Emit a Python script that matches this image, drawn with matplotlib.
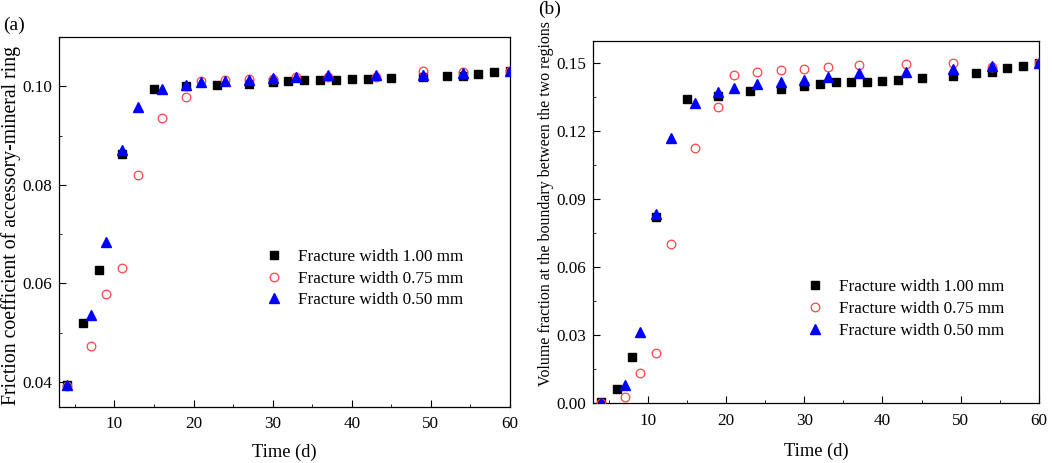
import matplotlib
matplotlib.use("Agg")
from matplotlib import pyplot as plt
from matplotlib.ticker import MultipleLocator

plt.rcParams['font.family'] = ['Liberation Serif', 'DejaVu Serif']
plt.rcParams['mathtext.fontset'] = 'stix'

# (a) friction coefficient
t1_a = [4, 6, 8, 11, 15, 19, 23, 27, 30, 32, 34, 36, 38, 40, 42, 45, 49, 52, 54, 56, 58, 60]
f1_a = [0.0395, 0.0520, 0.0627, 0.0863, 0.0995, 0.1000, 0.1002, 0.1005, 0.1009, 0.1011, 0.1012,
        0.1013, 0.1012, 0.1014, 0.1014, 0.1016, 0.1018, 0.1020, 0.1021, 0.1025, 0.1028, 0.1031]
t2_a = [4, 7, 9, 11, 13, 16, 19, 21, 24, 27, 30, 33, 37, 43, 49, 54, 60]
f2_a = [0.0393, 0.0474, 0.0579, 0.0631, 0.0821, 0.0936, 0.0978, 0.1011, 0.1013, 0.1014, 0.1014,
        0.1018, 0.1018, 0.1018, 0.1031, 0.1028, 0.1031]
t3_a = [4, 7, 9, 11, 13, 16, 19, 21, 24, 27, 30, 33, 37, 43, 49, 54, 60]
f3_a = [0.0395, 0.0537, 0.0685, 0.0870, 0.0957, 0.0994, 0.1003, 0.1009, 0.1011, 0.1013, 0.1016,
        0.1019, 0.1022, 0.1023, 0.1023, 0.1027, 0.1031]

# (b) volume fraction
t1_b = [4, 6, 8, 11, 15, 19, 23, 27, 30, 32, 34, 36, 38, 40, 42, 45, 49, 52, 54, 56, 58, 60]
v1_b = [0.0004, 0.0063, 0.0205, 0.0820, 0.1343, 0.1358, 0.1377, 0.1387, 0.1402, 0.1409, 0.1416,
        0.1416, 0.1416, 0.1421, 0.1427, 0.1436, 0.1443, 0.1456, 0.1463, 0.1478, 0.1487, 0.1500]
t2_b = [4, 7, 9, 11, 13, 16, 19, 21, 24, 27, 30, 33, 37, 43, 49, 54, 60]
v2_b = [0.0000, 0.0026, 0.0134, 0.0220, 0.0701, 0.1126, 0.1306, 0.1450, 0.1460, 0.1471, 0.1475,
        0.1485, 0.1493, 0.1497, 0.1502, 0.1482, 0.1500]
t3_b = [4, 7, 9, 11, 13, 16, 19, 21, 24, 27, 30, 33, 37, 43, 49, 54, 60]
v3_b = [0.0000, 0.0082, 0.0314, 0.0837, 0.1170, 0.1324, 0.1372, 0.1392, 0.1409, 0.1419, 0.1428,
        0.1441, 0.1456, 0.1463, 0.1475, 0.1490, 0.1500]

labels = ['Fracture width 1.00 mm', 'Fracture width 0.75 mm', 'Fracture width 0.50 mm']

fig = plt.figure(figsize=(10.52, 4.63), dpi=100)
ax1 = fig.add_axes([0.0561, 0.1216, 0.4287, 0.7985])
ax2 = fig.add_axes([0.5640, 0.1289, 0.4234, 0.7832])


def draw(ax, t1, y1, t2, y2, t3, y3):
    ax.plot(t1, y1, 's', color='black', ms=5.4, zorder=3, label=labels[0])
    ax.plot(t2, y2, 'o', mfc='none', mec='#ff4545', mew=0.9, ms=6.2, zorder=3, label=labels[1])
    ax.plot(t3, y3, '^', color='#0000ff', ms=6.6, zorder=3, label=labels[2])
    ax.set_xlim(3, 60)
    ax.xaxis.set_major_locator(MultipleLocator(10))
    ax.xaxis.set_minor_locator(MultipleLocator(5))
    ax.tick_params(which='both', direction='in', top=False, right=False, labelsize=12.3)
    ax.tick_params(axis='x', which='major', pad=7)
    ax.tick_params(axis='y', which='major', pad=5)
    ax.tick_params(which='major', length=5)
    ax.tick_params(which='minor', length=2.5)
    for s in ax.spines.values():
        s.set_linewidth(0.9)


draw(ax1, t1_a, f1_a, t2_a, f2_a, t3_a, f3_a)
ax1.set_xlabel('Time (d)', fontsize=13.3, labelpad=8)
ax1.set_ylim(0.035, 0.110)
ax1.yaxis.set_major_locator(MultipleLocator(0.02))
ax1.yaxis.set_minor_locator(MultipleLocator(0.01))
ax1.yaxis.set_major_formatter(plt.FormatStrFormatter('%.2f'))
ax1.set_ylabel('Friction coefficient of accessory-mineral ring', fontsize=14.2)
ax1.yaxis.set_label_coords(-0.085, 0.489)
ax1.legend(loc='upper left', bbox_to_anchor=(0.419, 0.45), frameon=False, fontsize=12.3,
           handletextpad=0.4, labelspacing=0.33, borderpad=0)

draw(ax2, t1_b, v1_b, t2_b, v2_b, t3_b, v3_b)
ax2.set_xlabel('Time (d)', fontsize=13.3, labelpad=10)
ax2.set_ylim(0, 0.16)
ax2.yaxis.set_major_locator(MultipleLocator(0.03))
ax2.yaxis.set_minor_locator(MultipleLocator(0.015))
ax2.yaxis.set_major_formatter(plt.FormatStrFormatter('%.2f'))
ax2.set_ylabel('Volume fraction at the boundary between the two regions', fontsize=11.4)
ax2.yaxis.set_label_coords(-0.088, 0.55)
ax2.legend(loc='upper left', bbox_to_anchor=(0.44, 0.366), frameon=False, fontsize=12.3,
           handletextpad=0.4, labelspacing=0.35, borderpad=0)

fig.text(3 / 1052, 1 - 25.5 / 463, '(a)', fontsize=14, va='center', ha='left')
fig.text(538 / 1052, 1 - 9 / 463, '(b)', fontsize=14, va='center', ha='left')

fig.savefig('out.png', dpi=100)
